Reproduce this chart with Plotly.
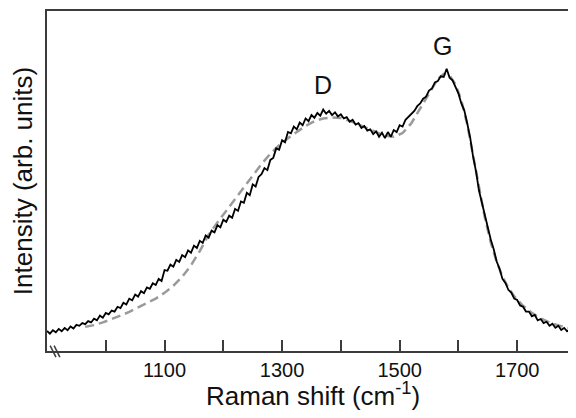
import plotly.graph_objects as go

# Measured Raman spectrum (wavenumber step 5 cm-1 from 900)
raman_start = 900
raman_step = 5
intensity = [
    0.059, 0.051, 0.061, 0.055, 0.065, 0.058, 0.068, 0.061, 0.072, 0.066,
    0.077, 0.074, 0.082, 0.079, 0.088, 0.084, 0.095, 0.090, 0.104, 0.098,
    0.112, 0.108, 0.119, 0.116, 0.130, 0.126, 0.142, 0.137, 0.154, 0.149,
    0.166, 0.160, 0.176, 0.170, 0.187, 0.183, 0.199, 0.194, 0.212, 0.206,
    0.238, 0.236, 0.254, 0.248, 0.268, 0.262, 0.282, 0.276, 0.296, 0.289,
    0.310, 0.303, 0.324, 0.318, 0.340, 0.333, 0.354, 0.349, 0.370, 0.364,
    0.386, 0.380, 0.398, 0.392, 0.418, 0.412, 0.440, 0.436, 0.465, 0.458,
    0.490, 0.484, 0.512, 0.520, 0.538, 0.532, 0.562, 0.568, 0.596, 0.592,
    0.620, 0.614, 0.644, 0.640, 0.660, 0.652, 0.672, 0.664, 0.684, 0.676,
    0.694, 0.686, 0.700, 0.692, 0.710, 0.698, 0.706, 0.694, 0.702, 0.690,
    0.696, 0.684, 0.688, 0.674, 0.680, 0.666, 0.670, 0.656, 0.662, 0.648,
    0.652, 0.638, 0.646, 0.630, 0.642, 0.626, 0.644, 0.630, 0.650, 0.644,
    0.664, 0.660, 0.680, 0.688, 0.698, 0.706, 0.720, 0.728, 0.742, 0.748,
    0.766, 0.772, 0.790, 0.794, 0.808, 0.806, 0.830, 0.804, 0.796, 0.776,
    0.758, 0.728, 0.708, 0.670, 0.628, 0.572, 0.528, 0.472, 0.436, 0.396,
    0.368, 0.328, 0.300, 0.264, 0.242, 0.212, 0.200, 0.180, 0.172, 0.154,
    0.150, 0.134, 0.130, 0.116, 0.116, 0.102, 0.106, 0.090, 0.094, 0.082,
    0.086, 0.074, 0.080, 0.068, 0.074, 0.062, 0.068, 0.058, 0.064, 0.054,
]
raman_shift = [raman_start + raman_step * i for i in range(len(intensity))]

# Fitted curve
fit_shift = [965, 980, 995, 1010, 1025, 1040, 1055, 1070, 1085, 1100, 1115,
             1130, 1145, 1160, 1175, 1190, 1205, 1220, 1235, 1250, 1265, 1280,
             1295, 1310, 1325, 1340, 1355, 1370, 1385, 1400, 1415, 1430, 1445,
             1460, 1475, 1490, 1505, 1520, 1535, 1550, 1565, 1575, 1585, 1595,
             1605, 1615, 1625, 1635, 1645, 1655, 1665, 1675, 1685, 1695, 1710,
             1725, 1740, 1755, 1770, 1785, 1795]
fit_intensity = [0.071, 0.076, 0.084, 0.093, 0.104, 0.115, 0.128, 0.140, 0.154,
                 0.171, 0.192, 0.218, 0.252, 0.294, 0.342, 0.378, 0.412, 0.447,
                 0.482, 0.515, 0.550, 0.580, 0.605, 0.626, 0.644, 0.662, 0.676,
                 0.684, 0.687, 0.685, 0.677, 0.666, 0.654, 0.642, 0.633, 0.630,
                 0.641, 0.670, 0.713, 0.760, 0.800, 0.815, 0.810, 0.785, 0.737,
                 0.667, 0.573, 0.478, 0.392, 0.320, 0.263, 0.219, 0.186, 0.161,
                 0.133, 0.112, 0.096, 0.084, 0.075, 0.069, 0.066]

label_ticks = [1100, 1300, 1500, 1700]
label_text = ["1100", "1300", "1500", "1700"]

peak_labels = ["D", "G"]
peak_x = [1369, 1573]
peak_y = [0.782, 0.897]

x_title = "Raman shift (cm<sup>-1</sup>)"
y_title = "Intensity (arb. units)"

FONT = "Arial, Liberation Sans, sans-serif"
AXC = "#3c3c3c"

fig = go.Figure()
fig.add_trace(go.Scatter(x=fit_shift, y=fit_intensity, mode="lines",
                         line=dict(color="#9a9a9a", width=2.5, dash="9px,5px"),
                         showlegend=False))
fig.add_trace(go.Scatter(x=raman_shift, y=intensity, mode="lines",
                         line=dict(color="#000000", width=1.8),
                         showlegend=False))

for t, xx, yy in zip(peak_labels, peak_x, peak_y):
    fig.add_annotation(x=xx, y=yy, text=t, showarrow=False,
                       font=dict(family=FONT, size=25, color="#111111"))

# x axis title placed as a paper annotation for exact vertical position
fig.add_annotation(xref="paper", yref="paper", x=0.506, y=0, yanchor="middle",
                   yshift=-43, text=x_title, showarrow=False,
                   font=dict(family=FONT, size=26, color="#111111"))

# axis break marks
for x0 in (0.006, 0.0135):
    fig.add_shape(type="line", xref="x domain", yref="y domain",
                  x0=x0, x1=x0 + 0.011, y0=0.016, y1=-0.018,
                  line=dict(color=AXC, width=1.5))

# page body has an 8px default margin, so the figure is sized to fit the window
fig.update_layout(
    width=568, height=410,
    margin=dict(l=39, r=3, t=3, b=67),
    paper_bgcolor="white", plot_bgcolor="white",
    font=dict(family=FONT, color="#111111"),
    xaxis=dict(range=[900, 1795], showline=True, linecolor=AXC, linewidth=1.5,
               mirror=True, ticks="inside", ticklen=11, tickwidth=1.5,
               tickcolor=AXC, tickmode="array", tickvals=label_ticks,
               ticktext=label_text,
               minor=dict(tick0=900, dtick=100, ticks="inside", ticklen=11,
                          tickwidth=1.5, tickcolor=AXC, showgrid=False),
               tickfont=dict(size=20, family=FONT, color="#111111"),
               showgrid=False, zeroline=False, automargin=False),
    yaxis=dict(range=[0, 1], showline=True, linecolor=AXC, linewidth=1.5,
               mirror=True, ticks="", showticklabels=False,
               showgrid=False, zeroline=False, automargin=False,
               title=dict(text=y_title,
                          font=dict(size=26, family=FONT, color="#111111"),
                          standoff=6)),
)

fig.write_html("out.html")
